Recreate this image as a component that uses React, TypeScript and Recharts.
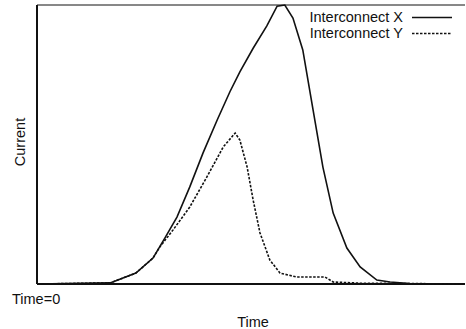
import { LineChart, Line, XAxis, YAxis, ReferenceLine } from "recharts"

// time (0..100) / current (0..100)
const timeX = [0, 17.1, 23.1, 27.1, 29.9, 32.7, 35.7, 38.8, 42.1, 45.1, 47.4, 50.5, 53.7, 56.1, 57.9, 59.8, 62.1, 64.5, 66.8, 69.2, 72.4, 75.5, 79.4, 82.5, 87.1, 100]
const currentX = [0, 0.4, 3.9, 9.3, 16.5, 24.0, 34.8, 47.0, 58.8, 69.0, 76.0, 84.5, 92.5, 99.6, 100, 95.3, 83.9, 62.4, 41.9, 25.4, 12.9, 6.1, 1.4, 0.7, 0.2, 0]

const timeY = [0, 17.1, 23.1, 27.1, 28.7, 31.8, 35.7, 39.7, 43.5, 46.3, 47.4, 49.1, 50.5, 52.1, 54.4, 56.8, 60.7, 67.3, 69.2, 75.5, 100]
const currentY = [0, 0.4, 3.9, 9.3, 13.3, 19.4, 27.6, 38.4, 49.1, 54.1, 51.6, 41.9, 30.1, 18.3, 8.6, 3.9, 2.5, 2.5, 0.7, 0.3, 0]

const seriesNames = ["Interconnect X", "Interconnect Y"]

const dataX = timeX.map((t, i) => ({ t, v: currentX[i] }))
const dataY = timeY.map((t, i) => ({ t, v: currentY[i] }))

const font = "'Liberation Sans', Arial, sans-serif"
const ink = "#111"
const fs = 14.5

function LegendBox() {
  const rows = [
    { name: seriesNames[0], dash: undefined },
    { name: seriesNames[1], dash: "2.5 1.5" },
  ]
  return (
    <div style={{ position: "absolute", top: 9, left: 250, width: 206, fontSize: fs, color: ink, lineHeight: "16px" }}>
      {rows.map((r) => (
        <div key={r.name} style={{ display: "flex", alignItems: "center", justifyContent: "flex-end" }}>
          <span>{r.name}</span>
          <svg width={50} height={16} style={{ marginLeft: 3 }}>
            <line x1={6} x2={46} y1={8.5} y2={8.5} stroke={ink} strokeWidth={1.5} strokeDasharray={r.dash} />
          </svg>
        </div>
      ))}
    </div>
  )
}

export default function App() {
  return (
    <div style={{ position: "absolute", left: 0, top: 0, width: 466, height: 329, fontFamily: font, background: "#fff" }}>
      <LineChart width={466} height={329} data={dataX} margin={{ top: 5, right: 1, bottom: 45, left: 37 }}>
        <XAxis dataKey="t" type="number" domain={[0, 100]} hide allowDuplicatedCategory={false} />
        <YAxis type="number" domain={[0, 100]} hide />
        <ReferenceLine y={100} stroke={ink} strokeWidth={1} />
        <ReferenceLine y={0} stroke={ink} strokeWidth={2} />
        <ReferenceLine x={0} stroke={ink} strokeWidth={2} />
        <Line
          data={dataX}
          dataKey="v"
          name={seriesNames[0]}
          type="linear"
          stroke={ink}
          strokeWidth={1.6}
          dot={false}
          isAnimationActive={false}
        />
        <Line
          data={dataY}
          dataKey="v"
          name={seriesNames[1]}
          type="linear"
          stroke={ink}
          strokeWidth={1.6}
          strokeDasharray="2.5 1.5"
          dot={false}
          isAnimationActive={false}
        />
      </LineChart>
      <LegendBox />
      <div style={{ position: "absolute", left: 12, top: 291, fontSize: fs, color: ink }}>Time=0</div>
      <div style={{ position: "absolute", left: 0, width: 506, top: 314, textAlign: "center", fontSize: fs, color: ink }}>Time</div>
      <div
        style={{
          position: "absolute",
          left: 20,
          top: 142,
          fontSize: fs,
          color: ink,
          transform: "translate(-50%, -50%) rotate(-90deg)",
          whiteSpace: "nowrap",
        }}
      >
        Current
      </div>
    </div>
  )
}
